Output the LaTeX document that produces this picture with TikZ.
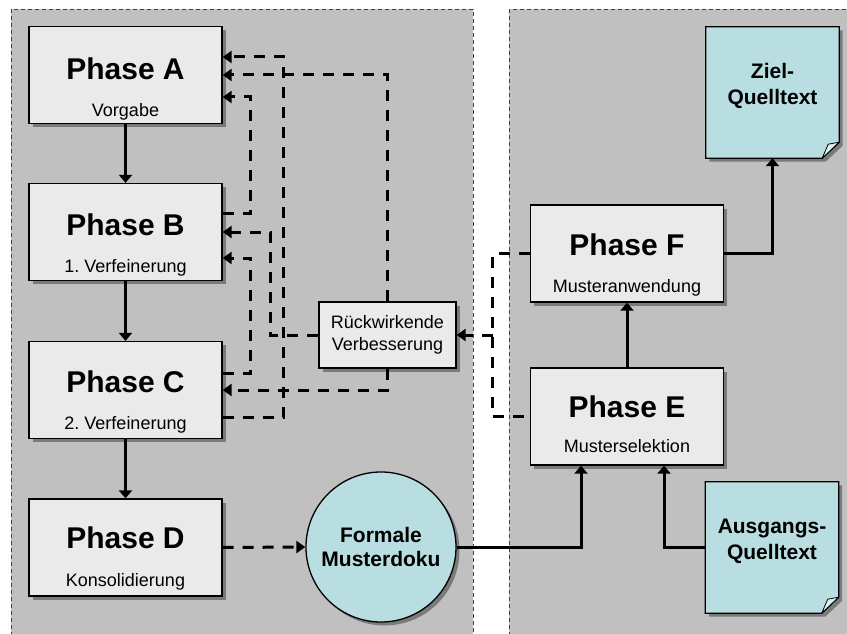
\documentclass[tikz,border=0pt]{standalone}
\usepackage{fontspec}
\setmainfont{Liberation Sans}
\usetikzlibrary{arrows.meta,calc,shadows}
\definecolor{panelgray}{HTML}{C0C0C0}
\definecolor{boxgray}{HTML}{EAEAEA}
\definecolor{shadowgray}{HTML}{7A7A7A}
\definecolor{docblue}{HTML}{B8DEE2}
\definecolor{foldblue}{HTML}{DCEFF1}
\definecolor{framegray}{HTML}{404040}
\frenchspacing

\begin{document}
\begin{tikzpicture}[x=1pt,y=-1pt,
  panel/.style={fill=panelgray, draw=framegray, line width=0.8pt, dash pattern=on 4pt off 3pt},
  boxshadow/.style={general shadow={fill=shadowgray, shadow xshift=3.5pt, shadow yshift=-3.5pt}},
  phase/.style={draw=black, line width=1.3pt, fill=boxgray, minimum width=193pt,
    minimum height=97pt, inner sep=0pt, boxshadow},
  phasetitle/.style={anchor=base, inner sep=0pt, font=\fontsize{30}{35}\selectfont\bfseries},
  phasesub/.style={anchor=base, inner sep=0pt, font=\fontsize{18}{21}\selectfont},
  feedbackbox/.style={draw=black, line width=1.3pt, fill=boxgray, minimum width=137pt,
    minimum height=66pt, inner sep=0pt, align=center, boxshadow,
    font=\fontsize{18}{21.5}\selectfont},
  docnode/.style={minimum width=133pt, minimum height=131pt, inner sep=0pt},
  docshape/.style={draw=black, line width=1.3pt, fill=docblue, boxshadow},
  docfold/.style={draw=black, line width=0.8pt, fill=foldblue, line join=round},
  doctext/.style={align=center, inner sep=0pt, font=\fontsize{21}{26}\selectfont\bfseries},
  docround/.style={circle, draw=black, line width=1.3pt, fill=docblue, minimum size=150pt,
    inner sep=0pt, align=center, boxshadow, font=\fontsize{21}{24.5}\selectfont\bfseries},
  flow/.style={line width=3pt, -{Triangle[length=8pt,width=13pt]}},
  fb/.style={line width=3pt, dash pattern=on 11pt off 9pt, -{Triangle[length=9pt,width=12pt]}},
  fbline/.style={line width=3pt, dash pattern=on 11pt off 9pt}
]
\clip (0,0) rectangle (847,634);
\useasboundingbox (0,0) rectangle (847,634);

% two swimlanes
\path[panel] (11,9) rectangle (473,660);
\path[panel] (509,9) rectangle (870,660);

% phases of the left lane
\node[phase] (A) at (125.5,75) {};
\node[phasetitle] (Atitle) at ($(A.center)+(0,5)$) {Phase A};
\node[phasesub] (Asub) at ($(A.south)+(0,-8)$) {Vorgabe};

\node[phase] (B) at (125.5,232) {};
\node[phasetitle] (Btitle) at ($(B.center)+(0,3)$) {Phase B};
\node[phasesub] (Bsub) at ($(B.south)+(0,-9)$) {1. Verfeinerung};

\node[phase] (C) at (125.5,390) {};
\node[phasetitle] (Ctitle) at ($(C.center)+(0,2)$) {Phase C};
\node[phasesub] (Csub) at ($(C.south)+(0,-10)$) {2. Verfeinerung};

\node[phase] (D) at (125.5,547.5) {};
\node[phasetitle] (Dtitle) at ($(D.center)+(0,1)$) {Phase D};
\node[phasesub] (Dsub) at ($(D.south)+(0,-10)$) {Konsolidierung};

% phases of the right lane
\node[phase] (F) at (627,253.5) {};
\node[phasetitle] (Ftitle) at ($(F.center)+(0,1.5)$) {Phase F};
\node[phasesub] (Fsub) at ($(F.south)+(0,-10)$) {Musteranwendung};

\node[phase] (E) at (627,416.5) {};
\node[phasetitle] (Etitle) at ($(E.center)+(0,0.5)$) {Phase E};
\node[phasesub] (Esub) at ($(E.south)+(0,-13)$) {Musterselektion};

% feedback hub and documentation
\node[feedbackbox] (R) at (387.5,335) {Rückwirkende\\Verbesserung};
\node[docround] (M) at (381,547) {Formale\\Musterdoku};

% source documents with folded corner
\node[docnode] (Z) at (772.5,92.5) {};
\path[docshape] (Z.north west) -- (Z.north east) -- ([yshift=16pt]Z.south east)
  -- ([xshift=-17pt]Z.south east) -- (Z.south west) -- cycle;
\path[docfold] ([yshift=16pt]Z.south east) -- ([xshift=-11pt,yshift=14pt]Z.south east)
  -- ([xshift=-17pt]Z.south east) -- cycle;
\node[doctext] (Ztext) at ($(Z.center)+(0,-7)$) {Ziel-\\Quelltext};

\node[docnode] (Q) at (772,547.5) {};
\path[docshape] (Q.north west) -- (Q.north east) -- ([yshift=16pt]Q.south east)
  -- ([xshift=-17pt]Q.south east) -- (Q.south west) -- cycle;
\path[docfold] ([yshift=16pt]Q.south east) -- ([xshift=-11pt,yshift=14pt]Q.south east)
  -- ([xshift=-17pt]Q.south east) -- cycle;
\node[doctext] (Qtext) at ($(Q.center)+(0,-6)$) {Ausgangs-\\Quelltext};

% main flow
\draw[flow] (A.south) -- (B.north);
\draw[flow] (B.south) -- (C.north);
\draw[flow] (C.south) -- (D.north);
\draw[fb] (D.east) -- (M.west);
\draw[flow] (M.east) -| ($(E.south)+(-46,0)$);
\draw[flow] (Q.west) -| ($(E.south)+(37,0)$);
\draw[flow] (E.north) -- (F.south);
\draw[flow] (F.east) -| (Z.south);

% feedback loops
\draw[fb] ($(B.east)+(0,-19)$) -- ++(28,0) |- ($(A.east)+(0,22)$);
\draw[fb] ($(C.east)+(0,27)$) -- ++(61,0) |- ($(A.east)+(0,-18)$);
\draw[fb] (R.north) |- (A.east);
\draw[fb] (R.west) -- ++(-48,0) |- (B.east);
\draw[fb] ($(C.east)+(0,-17)$) -- ++(28,0) |- ($(B.east)+(0,26)$);
\draw[fb] (R.south) |- (C.east);
\draw[fbline] (F.west) -- ++(-37,0) coordinate (fork) |- (E.west);
\draw[fb] (fork |- R.east) -- (R.east);
\end{tikzpicture}
\end{document}
